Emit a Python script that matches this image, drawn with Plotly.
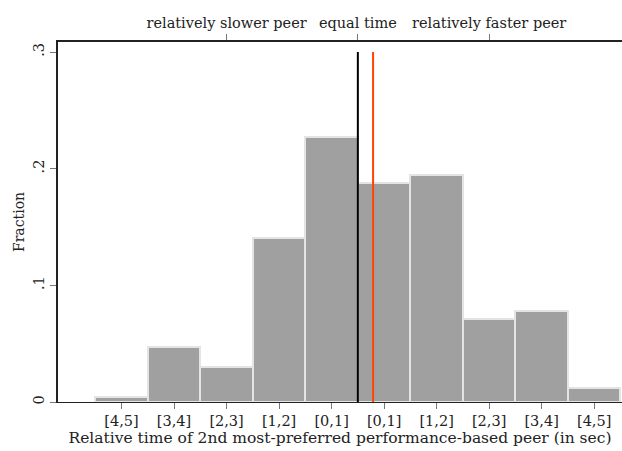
import plotly.graph_objects as go

bin_centers = [-4.5, -3.5, -2.5, -1.5, -0.5, 0.5, 1.5, 2.5, 3.5, 4.5]
tick_labels = ["[4,5]", "[3,4]", "[2,3]", "[1,2]", "[0,1]", "[0,1]", "[1,2]", "[2,3]", "[3,4]", "[4,5]"]
fractions = [0.004, 0.047, 0.030, 0.141, 0.227, 0.188, 0.195, 0.071, 0.078, 0.012]
top_ticks = [-2.5, 0, 2.5]
top_labels = ["relatively slower peer", "equal time", "relatively faster peer"]
equal_line = 0.0
mean_line = 0.29

FONT = "DejaVu Serif"
xr = [-5.71, 5.03]
yr = [0, 0.3086]

fig = go.Figure()
fig.add_trace(go.Bar(x=bin_centers, y=fractions, width=1,
                     marker=dict(color="#a0a0a0", line=dict(color="#e4e4e4", width=2)),
                     showlegend=False))
fig.add_trace(go.Scatter(x=[equal_line, equal_line], y=[0, 0.3], mode="lines",
                         line=dict(color="black", width=2), showlegend=False))
fig.add_trace(go.Scatter(x=[mean_line, mean_line], y=[0, 0.3], mode="lines",
                         line=dict(color="#ff4500", width=2), showlegend=False))
# invisible trace for top axis
fig.add_trace(go.Scatter(x=top_ticks, y=[0, 0, 0], xaxis="x2", mode="markers",
                         marker=dict(opacity=0), showlegend=False, hoverinfo="skip"))

fig.update_layout(
    width=622, height=451,
    margin=dict(l=58, r=0, t=42, b=49),
    plot_bgcolor="white", paper_bgcolor="white",
    font=dict(family=FONT, size=14, color="#222"),
    bargap=0,
    xaxis=dict(range=xr, tickvals=bin_centers, ticktext=tick_labels,
               ticks="outside", ticklen=6, tickcolor="#777", showgrid=False, zeroline=False,
               showline=True, linecolor="#222", linewidth=1,
               title=dict(text="Relative time of 2nd most-preferred performance-based peer (in sec)",
                          font=dict(size=15.5), standoff=2),
               tickfont=dict(size=14.5)),
    xaxis2=dict(range=xr, overlaying="x", side="top", tickvals=top_ticks, ticktext=top_labels,
                ticks="outside", ticklen=6, tickcolor="#777", showgrid=False, zeroline=False,
                showline=True, linecolor="#222", linewidth=2, anchor="y",
                tickfont=dict(size=14.5)),
    yaxis=dict(range=yr, tickvals=[0, 0.1, 0.2, 0.3], ticktext=["0", ".1", ".2", ".3"],
               tickangle=-90, ticks="outside", ticklen=6, tickcolor="#777",
               showgrid=False, zeroline=False, showline=True, linecolor="#222", linewidth=2,
               title=dict(text="Fraction", font=dict(size=14), standoff=3),
               tickfont=dict(size=14.5)),
)
fig.write_html("out.html")
